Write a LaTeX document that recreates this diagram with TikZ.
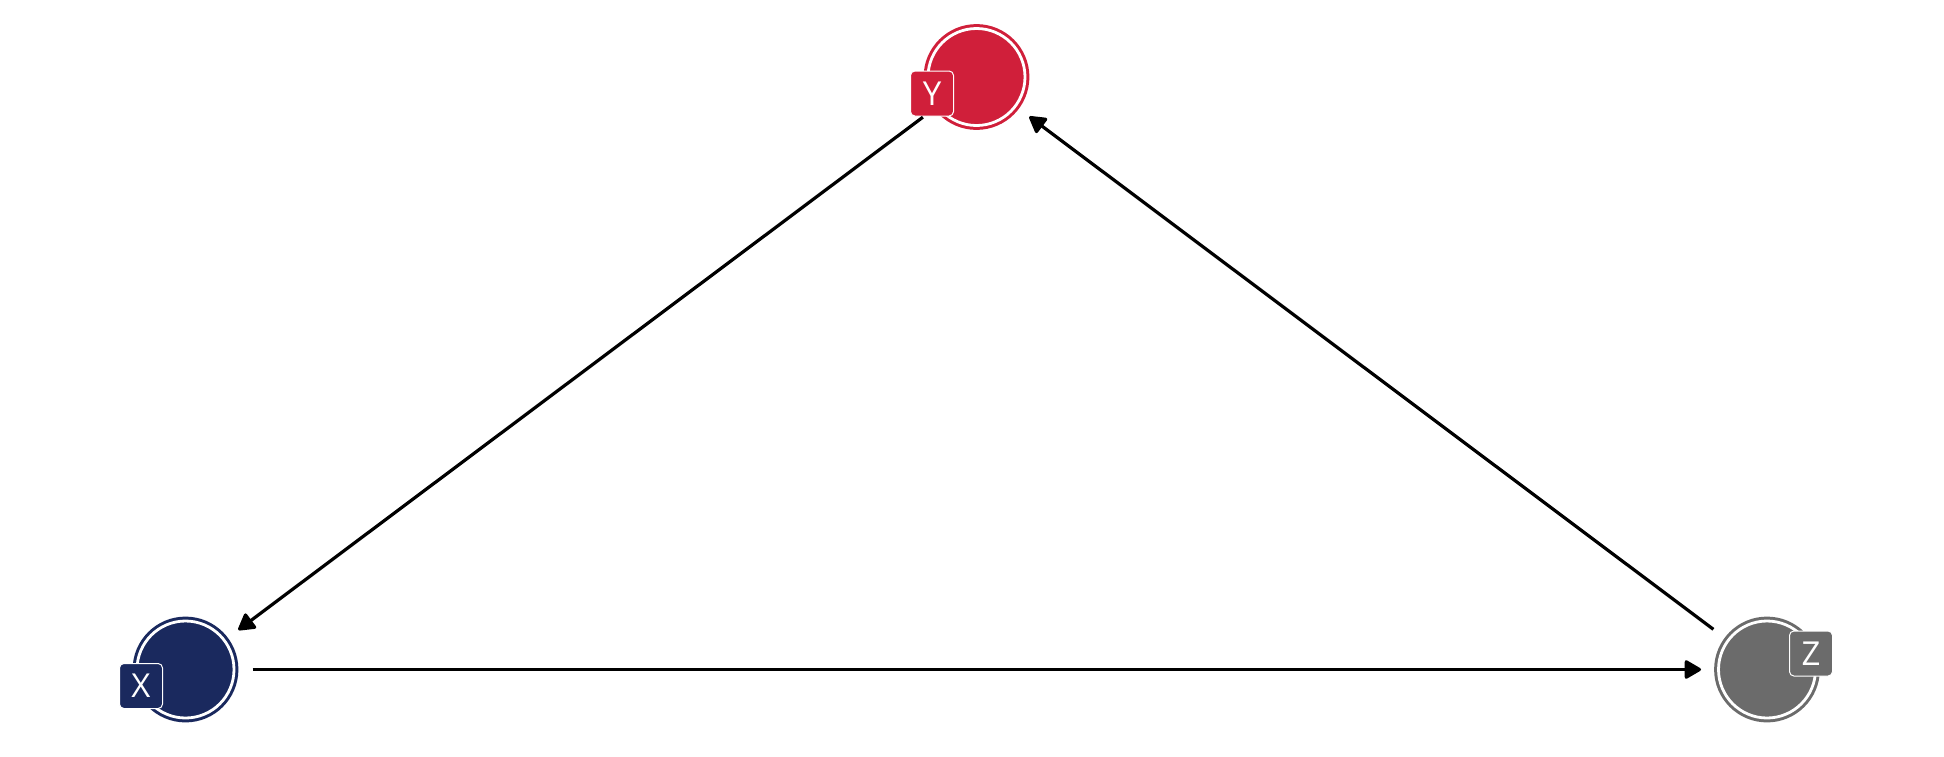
\documentclass[tikz,border=0pt]{standalone}
\usepackage{fontspec}
\setmainfont{Open Sans}
\usetikzlibrary{arrows.meta}
\definecolor{cy}{RGB}{208,31,58}
\definecolor{cx}{RGB}{26,41,94}
\definecolor{cz}{RGB}{107,107,107}
\tikzset{
  varnode/.style={circle, fill=#1, draw=#1, double=white, double distance=1.4pt,
    line width=1.5pt, minimum size=48.5pt, inner sep=0pt},
  varlabel/.style={rectangle, rounded corners=2.2pt, fill=#1, draw=white, line width=0.5pt,
    minimum width=21.5pt, minimum height=22.5pt, inner sep=0pt, text=white,
    font=\fontsize{16.5}{16.5}\selectfont},
  edge/.style={line width=1.6pt, -{Triangle[length=9pt,width=10pt,round]},
    shorten <=33.5pt, shorten >=33pt}
}
\begin{document}
\begin{tikzpicture}[x=0.5pt,y=-0.5pt]
\useasboundingbox (0,0) rectangle (1944,756);
\node[varnode=cy] (Y) at (976.5,77) {};
\node[varnode=cx] (X) at (185.5,669.5) {};
\node[varnode=cz] (Z) at (1767,669.5) {};
\node[varlabel=cy] (Ylab) at (932,93.5) {Y};
\node[varlabel=cx] (Xlab) at (141,686) {X};
\node[varlabel=cz] (Zlab) at (1811,653.5) {Z};
\draw[edge] (Y.center) -- (X.center);
\draw[edge] (Z.center) -- (Y.center);
\draw[edge] (X.center) -- (Z.center);
\end{tikzpicture}
\end{document}
